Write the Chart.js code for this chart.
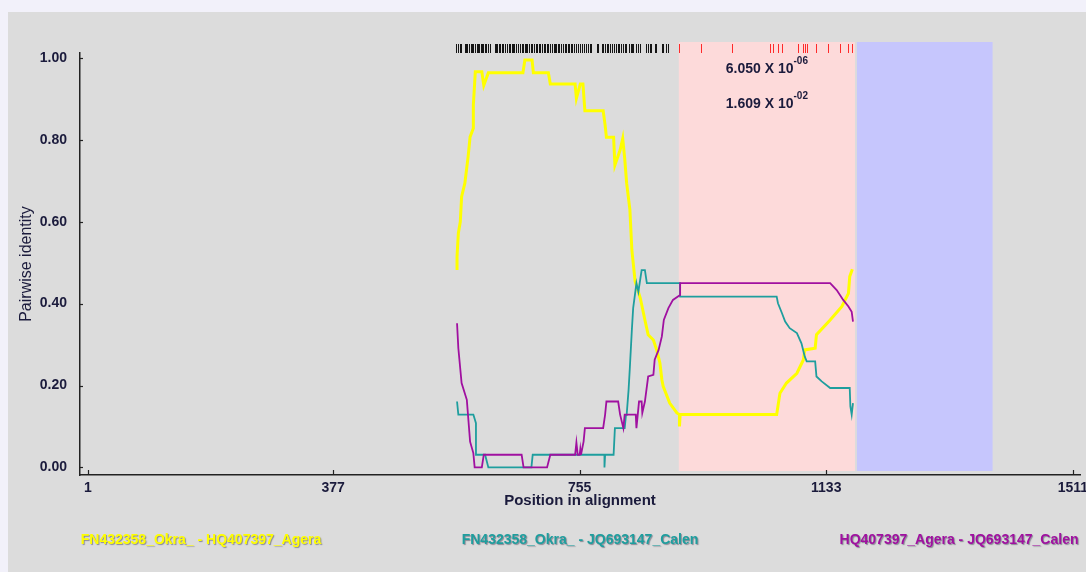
<!DOCTYPE html>
<html>
<head>
<meta charset="utf-8">
<title>Pairwise identity along the alignment</title>
<script src="https://cdn.jsdelivr.net/npm/chart.js@4/dist/chart.umd.min.js"></script>
<style>
  html, body { margin: 0; padding: 0; background: #f2f1fa; }
  canvas { display: block; }
</style>
</head>
<body>
<canvas id="chart" width="1086" height="572"></canvas>
<script>
// Sliding-window pairwise identity, sampled at the corners of each trace
const okraAgeraPos = [567,567,569,572,574,579,584,587,592,592,595,605,608,615,668,671,682,684,707,710,748,750,756,760,763,791,794,796,807,809,817,821,824,827,832,835,840,848,855,860,868,873,878,881,883,893,904,908,908,909,1057,1062,1072,1088,1098,1100,1116,1118,1139,1157,1167,1169,1173];
const okraAgeraId = [0.482,0.515,0.572,0.600,0.661,0.694,0.759,0.807,0.828,0.885,0.966,0.966,0.933,0.964,0.964,0.995,0.995,0.964,0.964,0.936,0.936,0.901,0.936,0.936,0.871,0.871,0.836,0.806,0.806,0.738,0.775,0.803,0.755,0.694,0.629,0.531,0.454,0.413,0.360,0.324,0.311,0.287,0.255,0.214,0.198,0.157,0.133,0.129,0.100,0.129,0.129,0.181,0.206,0.230,0.263,0.287,0.291,0.324,0.360,0.393,0.425,0.466,0.484];

const okraCalenPos = [567,569,592,596,596,610,615,681,683,793,793,794,807,809,824,826,827,830,832,835,837,840,842,845,850,855,858,909,909,1057,1059,1065,1070,1077,1088,1095,1100,1103,1116,1118,1126,1139,1169,1170,1172,1174];
const okraCalenId = [0.161,0.129,0.129,0.108,0.031,0.031,0.000,0.000,0.031,0.031,0.000,0.031,0.031,0.096,0.096,0.128,0.128,0.190,0.246,0.336,0.389,0.425,0.450,0.429,0.482,0.482,0.450,0.450,0.417,0.417,0.401,0.377,0.356,0.340,0.328,0.303,0.271,0.259,0.259,0.222,0.210,0.194,0.194,0.149,0.129,0.157];

const ageraCalenPos = [567,569,574,582,587,592,594,605,608,666,669,705,710,748,750,752,755,756,757,761,763,791,794,796,814,817,822,824,841,842,846,850,851,855,860,868,870,876,881,884,891,898,909,909,1139,1149,1159,1167,1172,1174];
const ageraCalenId = [0.352,0.291,0.206,0.165,0.063,0.035,0.000,0.000,0.031,0.031,0.000,0.000,0.031,0.031,0.061,0.031,0.031,0.045,0.031,0.063,0.096,0.096,0.129,0.161,0.161,0.129,0.096,0.129,0.129,0.096,0.161,0.161,0.133,0.161,0.222,0.226,0.263,0.287,0.320,0.360,0.389,0.409,0.421,0.450,0.450,0.433,0.409,0.393,0.380,0.356];

const pairNames = ['FN432358_Okra_ - HQ407397_Agera', 'FN432358_Okra_ - JQ693147_Calen', 'HQ407397_Agera - JQ693147_Calen'];

// Informative sites along the alignment
const informativeSites = [566,568,571,573,579,581,583,585,586,588,590,592,595,597,599,601,603,605,607,610,612,615,617,625,627,629,631,633,636,638,641,643,646,648,651,653,655,658,660,663,666,668,671,673,675,677,680,682,685,688,690,693,694,697,700,702,705,707,710,713,715,717,719,722,724,727,729,732,734,737,739,742,744,747,750,752,755,758,761,764,768,771,773,781,783,789,791,794,797,799,802,805,807,810,813,815,818,821,824,826,830,833,835,837,841,845,847,857,859,863,865,870,872,881,882,888,891];
const recombinantSites = [908,941,989,1047,1052,1059,1065,1090,1098,1100,1103,1118,1136,1154,1166,1172];

// Breakpoint spans
const recombinantRegion = [907, 1177];
const unassessedRegion = [1180, 1388];

// Probabilities for the recombinant region
const pMantissas = ['6.050', '1.609'];
const pExponents = ['-06', '-02'];

const xTickValues = [1, 377, 755, 1133, 1511];
const yTickValues = [0, 0.2, 0.4, 0.6, 0.8, 1.0];

const pairColors = ['#ffff00', '#1e9e9e', '#a010a0'];
const textColor = '#1b1b3c';
const fontFamily = '"Liberation Sans", Arial, sans-serif';

function toPoints(xs, ys) {
  return xs.map((x, i) => ({ x: x, y: ys[i] }));
}

const decorations = {
  id: 'decorations',
  beforeDraw(chart) {
    const { ctx, width, height } = chart;
    ctx.save();
    ctx.fillStyle = '#f2f1fa';
    ctx.fillRect(0, 0, width, height);
    ctx.fillStyle = '#dcdcdc';
    ctx.fillRect(8, 12, width - 8, height - 12);
    ctx.restore();
  },
  beforeDatasetsDraw(chart) {
    const { ctx, chartArea: a, scales: { x } } = chart;
    const top = a.top - 11, bottom = a.bottom - 4;
    ctx.save();
    [[recombinantRegion, '#fddada'], [unassessedRegion, '#c6c6fd']].forEach(([r, c]) => {
      const x0 = x.getPixelForValue(r[0]);
      const x1 = x.getPixelForValue(r[1]);
      ctx.fillStyle = c;
      ctx.fillRect(x0, top, x1 - x0, bottom - top);
    });
    // site ticks across the top
    ctx.lineWidth = 1;
    const drawSites = (sites, color) => {
      ctx.strokeStyle = color;
      sites.forEach(s => {
        const px = Math.round(x.getPixelForValue(s)) + 0.5;
        ctx.beginPath();
        ctx.moveTo(px, a.top - 9);
        ctx.lineTo(px, a.top);
        ctx.stroke();
      });
    };
    drawSites(informativeSites, '#151515');
    drawSites(recombinantSites, '#ff2a2a');
    ctx.restore();
  },
  afterDatasetsDraw(chart) {
    const { ctx, chartArea: a, scales: { x, y } } = chart;
    ctx.save();
    // inward tick marks
    ctx.strokeStyle = '#222';
    ctx.lineWidth = 1.2;
    x.ticks.forEach(t => {
      const px = Math.round(x.getPixelForValue(t.value)) + 0.5;
      ctx.beginPath(); ctx.moveTo(px, a.bottom); ctx.lineTo(px, a.bottom - 5); ctx.stroke();
    });
    y.ticks.forEach(t => {
      const py = Math.round(y.getPixelForValue(t.value)) + 0.5;
      ctx.beginPath(); ctx.moveTo(a.left, py); ctx.lineTo(a.left + 3, py); ctx.stroke();
    });
    // probabilities, centred over the recombinant region
    const cx = (x.getPixelForValue(recombinantRegion[0]) + x.getPixelForValue(recombinantRegion[1])) / 2;
    ctx.fillStyle = textColor;
    ctx.textBaseline = 'middle';
    ctx.textAlign = 'left';
    pMantissas.forEach((m, i) => {
      const main = m + ' X 10';
      ctx.font = 'bold 14px ' + fontFamily;
      const w1 = ctx.measureText(main).width;
      ctx.font = 'bold 10px ' + fontFamily;
      const w2 = ctx.measureText(pExponents[i]).width;
      const x0 = cx - (w1 + w2) / 2;
      const yy = a.top + 16 + i * 35;
      ctx.font = 'bold 14px ' + fontFamily;
      ctx.fillText(main, x0, yy);
      ctx.font = 'bold 10px ' + fontFamily;
      ctx.fillText(pExponents[i], x0 + w1, yy - 8);
    });
    ctx.restore();
  },
  afterDraw(chart) {
    const { ctx, chartArea: a } = chart;
    const mid = (a.left + a.right) / 2;
    ctx.save();
    ctx.font = 'bold 14px ' + fontFamily;
    ctx.textAlign = 'center';
    ctx.textBaseline = 'middle';
    ctx.shadowColor = 'rgba(70,70,90,0.55)';
    ctx.shadowOffsetX = 1;
    ctx.shadowOffsetY = 1;
    ctx.shadowBlur = 1;
    pairNames.forEach((name, i) => {
      ctx.fillStyle = pairColors[i];
      ctx.fillText(name, mid + (i - 1) * 379, 540);
    });
    ctx.restore();
  }
};

new Chart(document.getElementById('chart'), {
  type: 'line',
  data: {
    datasets: [
      { label: pairNames[0], data: toPoints(okraAgeraPos, okraAgeraId), borderColor: pairColors[0], borderWidth: 3, order: 2 },
      { label: pairNames[1], data: toPoints(okraCalenPos, okraCalenId), borderColor: pairColors[1], borderWidth: 1.8, order: 1 },
      { label: pairNames[2], data: toPoints(ageraCalenPos, ageraCalenId), borderColor: pairColors[2], borderWidth: 1.8, order: 0 }
    ]
  },
  options: {
    responsive: false,
    animation: false,
    devicePixelRatio: 1,
    layout: { padding: { top: 53, right: 6, left: 0, bottom: 0 } },
    elements: { point: { radius: 0 }, line: { tension: 0, fill: false, borderJoinStyle: 'miter' } },
    plugins: { legend: { display: false }, tooltip: { enabled: false } },
    scales: {
      x: {
        type: 'linear',
        min: -11,
        max: 1522,
        afterBuildTicks: s => { s.ticks = xTickValues.map(v => ({ value: v })); },
        afterFit: s => { s.height = 97; s.paddingLeft = 0; s.paddingRight = 0; },
        grid: { display: false, drawTicks: false },
        border: { display: true, color: '#222', width: 1.5 },
        ticks: {
          autoSkip: false, maxRotation: 0, padding: 5,
          color: textColor,
          font: { family: fontFamily, size: 14, weight: 'bold' },
          callback: v => String(v)
        },
        title: {
          display: true, text: 'Position in alignment', color: textColor,
          font: { family: fontFamily, size: 15, weight: 'bold' },
          padding: { top: 0, bottom: 62 }
        }
      },
      y: {
        type: 'linear',
        min: -0.0185,
        max: 1.012,
        afterBuildTicks: s => { s.ticks = yTickValues.map(v => ({ value: v })); },
        afterFit: s => { s.width = 80; s.paddingTop = 0; s.paddingBottom = 0; },
        grid: { display: false, drawTicks: false },
        border: { display: true, color: '#222', width: 1.5 },
        ticks: {
          padding: 13,
          color: textColor,
          font: { family: fontFamily, size: 14, weight: 'bold' },
          callback: v => Number(v).toFixed(2)
        },
        title: {
          display: true, text: 'Pairwise identity', color: textColor,
          font: { family: fontFamily, size: 16, weight: 'normal' },
          padding: { top: 17, bottom: 0 }
        }
      }
    }
  },
  plugins: [decorations]
});
</script>
</body>
</html>
